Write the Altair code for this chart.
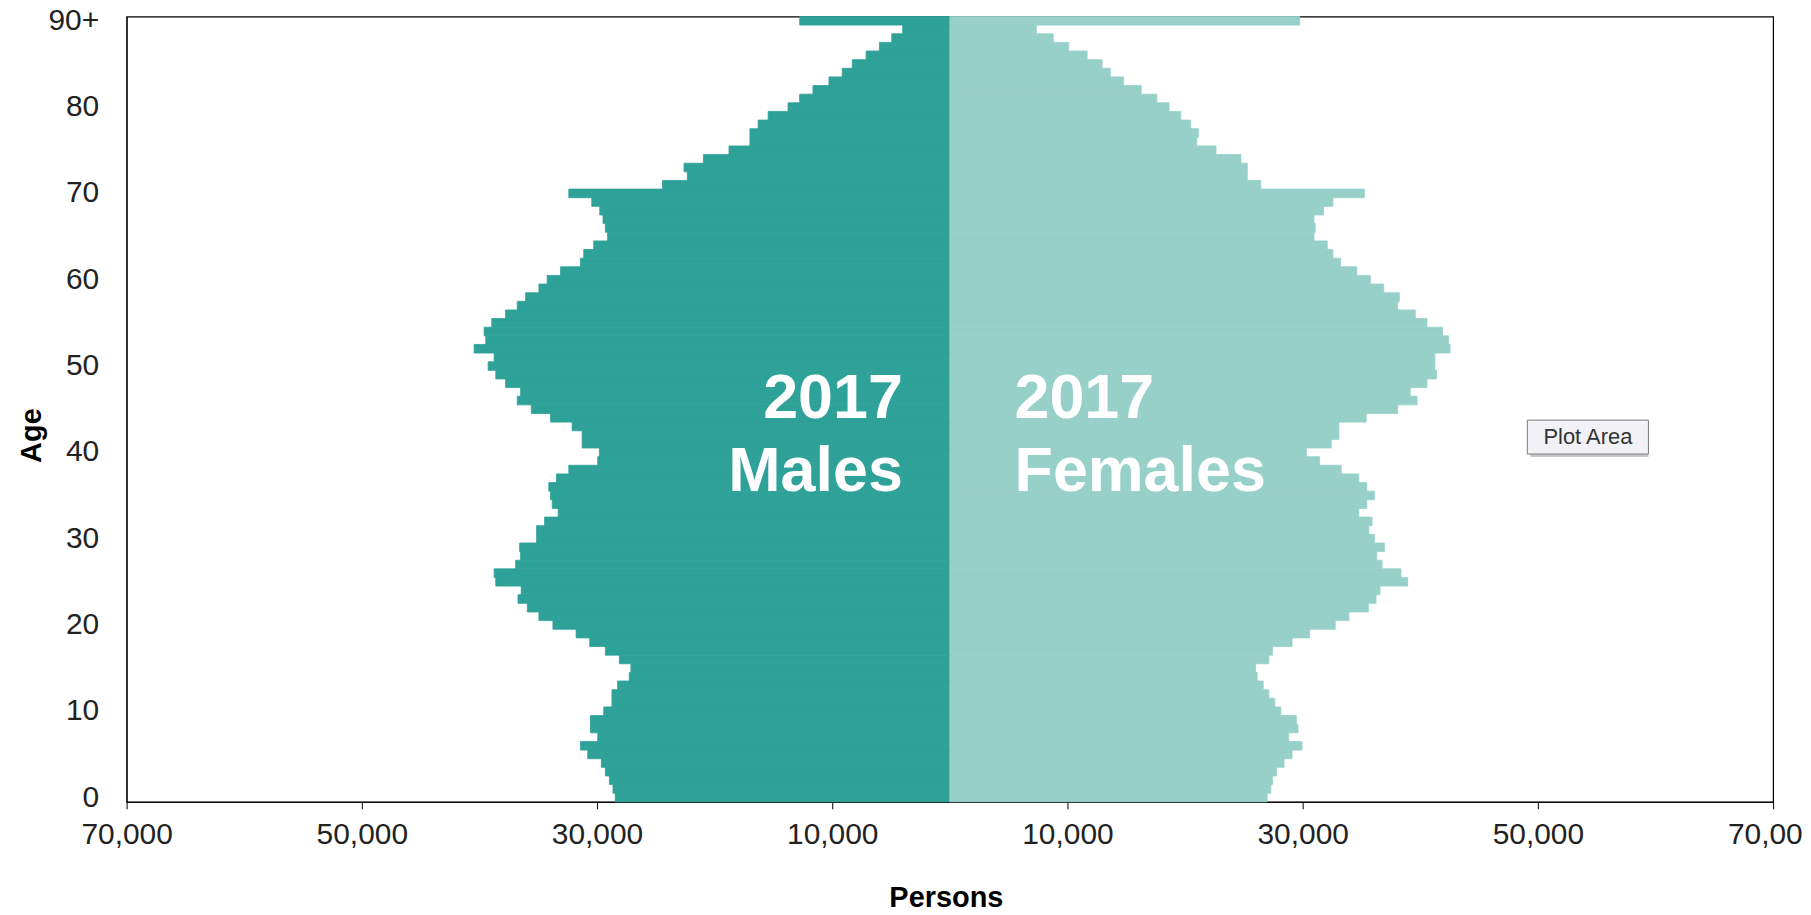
import altair as alt
import pandas as pd

ages = list(range(91))
males = [28450, 28640, 28950, 29290, 29630, 30790, 31410, 29940, 30560, 30560,
         29430, 28730, 28730, 28250, 27260, 27120, 28100, 29290, 30620, 31780,
         33750, 34940, 35930, 36720, 36450, 38610, 38750, 36920, 36500, 36580,
         35140, 35140, 34460, 33300, 33810, 33950, 34100, 33450, 32400, 29940,
         29800, 31270, 31270, 32120, 33950, 35590, 36780, 36500, 37770, 38610,
         39260, 38750, 40450, 39460, 39600, 38950, 37770, 36780, 36070, 34940,
         34240, 33100, 31410, 31130, 30280, 29100, 29290, 29490, 29770, 30450,
         32400, 24430, 22320, 22600, 20960, 18780, 17000, 17000, 16300, 15450,
         13760, 12770, 11640, 10280, 9150, 8300, 7120, 5990, 4940, 4010,
         12770]
females = [26980, 27290, 27430, 27770, 28420, 29100, 29940, 28810, 29600, 29460,
           28140, 27630, 27120, 26640, 26130, 25990, 27120, 27430, 29100, 30590,
           32770, 33930, 35590, 36240, 36580, 38930, 38360, 36750, 36300, 36950,
           36100, 35620, 35900, 34770, 35450, 36100, 35450, 34770, 33280, 31440,
           30310, 32430, 33080, 33080, 35400, 38080, 39720, 39150, 40570, 41380,
           41240, 41240, 42540, 42400, 41890, 40570, 39580, 38080, 38220, 36890,
           35760, 34600, 33220, 32570, 32090, 30960, 31070, 30960, 31780, 32570,
           35250, 26440, 25290, 25290, 24750, 22630, 20990, 21130, 20480, 19630,
           18640, 17600, 16270, 14770, 13640, 12940, 11670, 10110, 8790, 7350,
           29750]

age_ticks = [0, 10, 20, 30, 40, 50, 60, 70, 80, 90]
x_ticks = [-70000, -50000, -30000, -10000, 10000, 30000, 50000, 70000]
sexes = ["Males", "Females"]
colors = ["#2ea198", "#97d0c9"]

# annotation texts (x in persons, y in age units)
male_labels = ["2017", "Males"]
female_labels = ["2017", "Females"]
label_x_male = -4000
label_x_female = 5500
label_y = [44.46, 36.03]

tip_text = ["Plot Area"]
tip_x = [49100, 59400]
tip_y = [40.3, 44.23]

rows = []
for a, m, f in zip(ages, males, females):
    rows.append({"age": a, "sex": "Males", "value": -m})
    rows.append({"age": a, "sex": "Females", "value": f})
df = pd.DataFrame(rows)

FONT = "Liberation Sans"
x_scale = alt.Scale(domain=[-70000, 70000], nice=False, zero=False)
ann_y = alt.Scale(domain=[0, 91], nice=False, zero=False)
col_scale = alt.Scale(domain=sexes, range=colors)

bars = alt.Chart(df).mark_bar(strokeWidth=0.8).encode(
    x=alt.X("value:Q", scale=x_scale,
            axis=alt.Axis(values=x_ticks, labelExpr="format(abs(datum.value), ',')",
                          title="Persons", grid=False, tickSize=7, labelPadding=11,
                          labelFlush=False,
                          labelFontSize=30, labelFont=FONT, labelColor="#222",
                          tickColor="#000", domainColor="#000",
                          titleFontSize=29, titleFont=FONT, titleFontWeight="bold",
                          titleColor="#000", titleY=96, titleX=822,
                          titleBaseline="middle")),
    x2=alt.datum(0),
    y=alt.Y("age:O", sort="descending",
            scale=alt.Scale(paddingInner=0, paddingOuter=0),
            axis=alt.Axis(values=age_ticks,
                          labelExpr="datum.value == 90 ? '90+' : datum.label",
                          ticks=False, labelPadding=28, labelFontSize=30,
                          labelFont=FONT, labelColor="#222", domainColor="#000",
                          labelAngle=0, title="Age", titleFontSize=29,
                          titleFont=FONT, titleFontWeight="bold", titleColor="#000",
                          titleAngle=-90, titleX=-95, titleY=420,
                          titleBaseline="middle", titleAlign="center")),
    color=alt.Color("sex:N", scale=col_scale, legend=None),
    stroke=alt.Stroke("sex:N", scale=col_scale, legend=None),
)

mt = pd.DataFrame({"t": male_labels, "x": [label_x_male] * 2, "y": label_y})
ft = pd.DataFrame({"t": female_labels, "x": [label_x_female] * 2, "y": label_y})

male_text = alt.Chart(mt).mark_text(
    align="right", baseline="alphabetic", font=FONT, fontSize=63,
    fontWeight="bold", color="white").encode(
    x=alt.X("x:Q", scale=x_scale),
    y=alt.Y("y:Q", scale=ann_y, axis=None),
    text="t:N")

female_text = alt.Chart(ft).mark_text(
    align="left", baseline="alphabetic", font=FONT, fontSize=63,
    fontWeight="bold", color="white").encode(
    x=alt.X("x:Q", scale=x_scale),
    y=alt.Y("y:Q", scale=ann_y, axis=None),
    text="t:N")

box_df = pd.DataFrame({"x": [tip_x[0]], "x2": [tip_x[1]], "y": [tip_y[0]], "y2": [tip_y[1]]})
shadow = alt.Chart(box_df).mark_rect(color="#c8c8c8", xOffset=3, yOffset=3).encode(
    x=alt.X("x:Q", scale=x_scale), x2="x2:Q",
    y=alt.Y("y:Q", scale=ann_y, axis=None), y2="y2:Q")
box = alt.Chart(box_df).mark_rect(fill="#f2f2f6", stroke="#7a7a7a", strokeWidth=1).encode(
    x=alt.X("x:Q", scale=x_scale), x2="x2:Q",
    y=alt.Y("y:Q", scale=ann_y, axis=None), y2="y2:Q")
tip_df = pd.DataFrame({"t": tip_text, "x": [(tip_x[0] + tip_x[1]) / 2],
                       "y": [(tip_y[0] + tip_y[1]) / 2]})
tip = alt.Chart(tip_df).mark_text(font=FONT, fontSize=22, color="#333",
                                  baseline="middle", align="center").encode(
    x=alt.X("x:Q", scale=x_scale),
    y=alt.Y("y:Q", scale=ann_y, axis=None),
    text="t:N")

chart = alt.layer(bars, male_text, female_text, shadow, box, tip).resolve_scale(
    y="independent"
).properties(
    width=1652, height=788,
    padding={"left": 119, "top": 7, "right": 30, "bottom": 112},
    autosize=alt.AutoSizeParams(type="none"),
    background="white",
).configure_view(stroke="#000", strokeWidth=1.2)

chart.save("out.html", embed_options={"renderer": "svg", "actions": False})
